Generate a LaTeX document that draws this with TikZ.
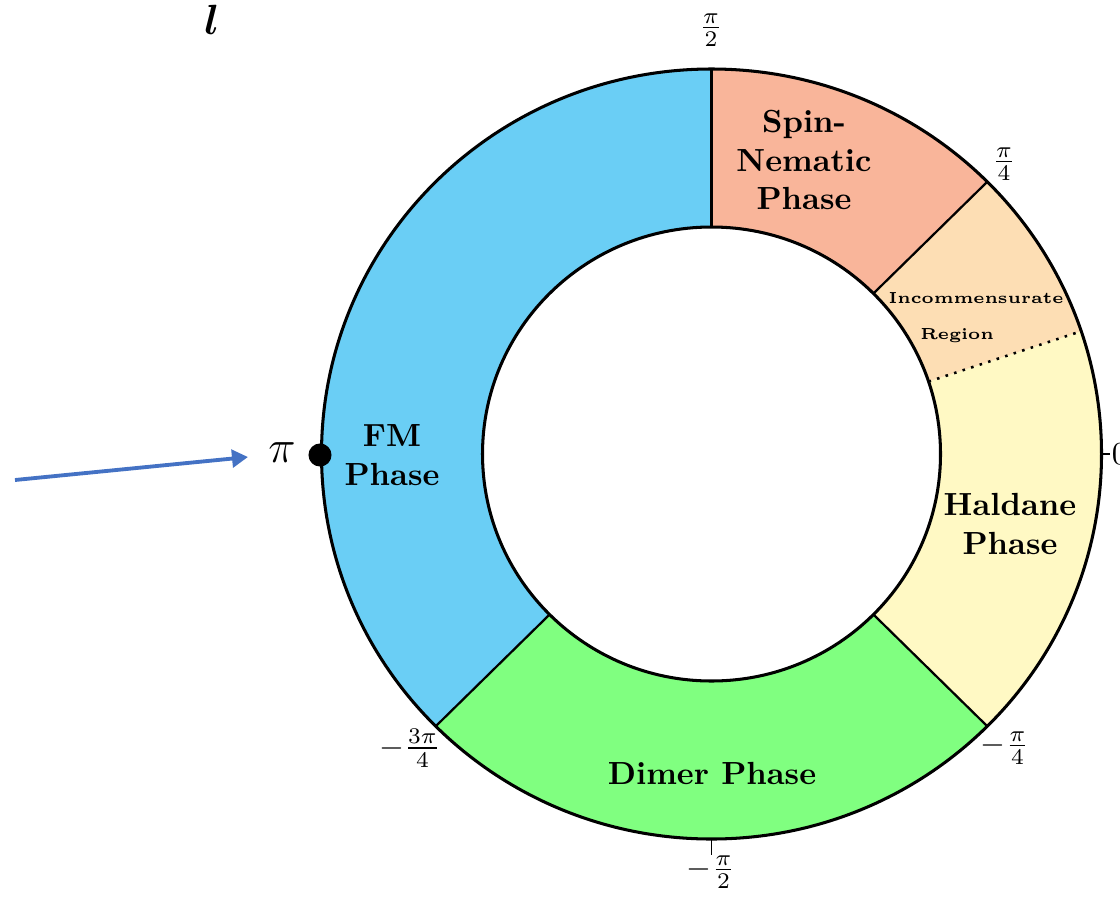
\documentclass[tikz,border=0pt]{standalone}
\usepackage{bm}
\usetikzlibrary{calc,arrows.meta}
\definecolor{fmblue}{RGB}{106,206,245}
\definecolor{spinsalmon}{RGB}{249,181,154}
\definecolor{incpeach}{RGB}{253,222,180}
\definecolor{haldyellow}{RGB}{255,249,196}
\definecolor{dimergreen}{RGB}{128,255,128}
\definecolor{arrowblue}{RGB}{68,114,196}
\newcommand\Rx{390}
\newcommand\Ry{385}
\newcommand\rx{229}
\newcommand\ry{227}
\newcommand\ringseg[3]{%
  \fill[#1] ($(C)+({\Rx*cos(#2)},{\Ry*sin(#2)})$)
    arc[start angle=#2,end angle=#3,x radius=\Rx,y radius=\Ry]
    -- ($(C)+({\rx*cos(#3)},{\ry*sin(#3)})$)
    arc[start angle=#3,end angle=#2,x radius=\rx,y radius=\ry] -- cycle;}
\tikzset{
  phase/.style={font=\bfseries, align=center, inner sep=0pt},
  ticklbl/.style={font=\normalsize, inner sep=1pt},
  border/.style={line width=0.95pt},
  radial/.style={line width=0.7pt},
}
\begin{document}
\begin{tikzpicture}[x=0.3125pt,y=0.3125pt]
\useasboundingbox (0,0) rectangle (1120,898);
\coordinate (C) at (711.5,444);
% sectors
\ringseg{fmblue}{90}{225}
\ringseg{dimergreen}{225}{315}
\ringseg{haldyellow}{-45}{18.6}
\ringseg{incpeach}{18.6}{45}
\ringseg{spinsalmon}{45}{90}
% radial boundaries
\foreach \a in {90,45,-45,225}{
  \draw[radial] ($(C)+({\rx*cos(\a)},{\ry*sin(\a)})$) -- ($(C)+({\Rx*cos(\a)},{\Ry*sin(\a)})$);
}
\draw[line width=0.8pt, dotted] ($(C)+({\rx*cos(18.6)},{\ry*sin(18.6)})$) -- ($(C)+({\Rx*cos(18.6)},{\Ry*sin(18.6)})$);
% outlines
\draw[border] (C) ellipse[x radius=\Rx, y radius=\Ry];
\draw[border] (C) ellipse[x radius=\rx, y radius=\ry];
% ticks
\coordinate (t0a) at ($(C)+(\Rx,0)$);
\coordinate (t0b) at ($(C)+(\Rx+8,0)$);
\draw[line width=0.4pt] (t0a) -- (t0b);
\coordinate (tma) at ($(C)+(0,-\Ry)$);
\coordinate (tmb) at ($(C)+(0,-\Ry-16)$);
\draw[line width=0.4pt] (tma) -- (tmb);
% phase labels
\node[phase] (fm) at (392,443) {FM\\Phase};
\node[phase] (spin) at (804,738) {Spin-\\Nematic\\Phase};
\node[phase] (hald) at (1010,374) {Haldane\\Phase};
\node[phase] (dimer) at (712,125) {Dimer Phase};
\node[font=\tiny\bfseries, inner sep=0pt] (inc) at (976,600) {Incommensurate};
\node[font=\tiny\bfseries, inner sep=0pt] (reg) at (957,562) {Region};
% tick labels
\node[ticklbl] (l90) at (711,868) {$\frac{\pi}{2}$};
\node[ticklbl] (l45) at (1004,734) {$\frac{\pi}{4}$};
\node[ticklbl] (lm135) at (410,150) {$-\frac{3\pi}{4}$};
\node[ticklbl] (lm45) at (1005,150) {$-\frac{\pi}{4}$};
\node[ticklbl] (lm90) at (711,26) {$-\frac{\pi}{2}$};
\node[ticklbl, anchor=west, inner sep=0.5pt] (l0) at (t0b) {$0$};
% pi marker
\node[circle, fill=black, minimum size=7.2pt, inner sep=0pt] (dot) at (320,443) {};
\node[font=\Large, inner sep=0pt] (pilbl) at (282,445) {$\pi$};
\coordinate (arrS) at (15,418);
\coordinate (arrE) at (248,441);
\draw[arrowblue, line width=1.2pt, -{Triangle[length=5pt,width=5.5pt]}] (arrS) -- (arrE);
\node[font=\large, inner sep=0pt, scale=1.1] (ell) at (212,878) {$\bm{l}$};
\end{tikzpicture}
\end{document}
